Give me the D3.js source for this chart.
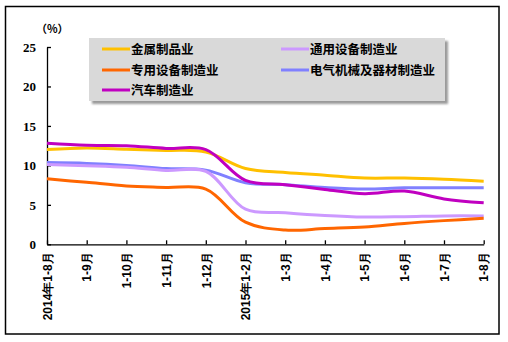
<!DOCTYPE html>
<html>
<head>
<meta charset="utf-8">
<script src="https://cdn.jsdelivr.net/npm/d3@7"></script>
<style>
  html, body { margin: 0; padding: 0; background: #fff; }
  svg { display: block; }
</style>
</head>
<body>
<svg id="chart" width="508" height="342"></svg>
<script>
// Monthly cumulative growth (%), Jan–Aug 2014 through Jan–Aug 2015
const periods = ["2014年1-8月", "1-9月", "1-10月", "1-11月", "1-12月", "2015年1-2月",
                 "1-3月", "1-4月", "1-5月", "1-6月", "1-7月", "1-8月"];
const yTicks = [0, 5, 10, 15, 20, 25];

const metalProducts   = [12.0, 12.2, 12.05, 11.9, 11.7, 9.6, 9.1, 8.75, 8.4, 8.4, 8.25, 8.0];
const generalEquip    = [10.1, 9.95, 9.75, 9.35, 9.25, 4.45, 4.0, 3.65, 3.45, 3.5, 3.6, 3.6];
const specialEquip    = [8.3, 7.85, 7.4, 7.2, 7.0, 2.8, 1.8, 2.0, 2.2, 2.65, 3.0, 3.3];
const electricalMach  = [10.35, 10.25, 10.0, 9.6, 9.4, 7.8, 7.55, 7.2, 7.0, 7.15, 7.15, 7.15];
const automobile      = [12.8, 12.55, 12.5, 12.15, 12.0, 8.1, 7.55, 6.95, 6.4, 6.75, 5.75, 5.25];

const seriesNames  = ["金属制品业", "通用设备制造业", "专用设备制造业", "电气机械及器材制造业", "汽车制造业"];
const seriesColors = ["#FFC000", "#CC99FF", "#FF6600", "#8080FF", "#C000C0"];
const seriesValues = [metalProducts, generalEquip, specialEquip, electricalMach, automobile];

const svg = d3.select("#chart");

// outer frame
svg.append("rect")
  .attr("x", 5.5).attr("y", 6.5).attr("width", 493.5).attr("height", 327.5)
  .attr("fill", "#fff").attr("stroke", "#000").attr("stroke-width", 1.5);

const x = d3.scalePoint().domain(periods).range([47, 483.7]);
const y = d3.scaleLinear().domain([0, 25]).range([244.3, 47]);

// axes (ticks point inward)
const yAxis = d3.axisLeft(y).tickValues(yTicks).tickSize(-4).tickSizeOuter(0).tickPadding(11);
const gy = svg.append("g").attr("transform", "translate(47,0)").call(yAxis);
gy.select(".domain").attr("stroke", "#000").attr("stroke-width", 1.3);
gy.selectAll(".tick line").attr("stroke", "#000").attr("stroke-width", 1.3);
gy.selectAll(".tick text")
  .attr("font-family", "'Liberation Serif', 'Times New Roman', serif")
  .attr("font-weight", "bold").attr("font-size", 13).attr("fill", "#000");

const xAxis = d3.axisBottom(x).tickSize(-4).tickSizeOuter(0).tickPadding(0);
const gx = svg.append("g").attr("transform", "translate(0,244.3)").call(xAxis);
gx.select(".domain").attr("stroke", "#000").attr("stroke-width", 1.3);
gx.selectAll(".tick line").attr("stroke", "#000").attr("stroke-width", 1.3);
gx.selectAll(".tick text")
  .attr("font-family", "'Liberation Sans', Arial, sans-serif")
  .attr("font-weight", "bold").attr("font-size", 12).attr("fill", "#000")
  .attr("text-anchor", "end")
  .attr("transform", "translate(0,8) rotate(-90)")
  .attr("x", 0).attr("y", 0).attr("dy", "0.35em");

// unit label
svg.append("text")
  .attr("x", 36).attr("y", 33)
  .attr("font-family", "'Noto Sans CJK SC', sans-serif")
  .attr("font-weight", "bold").attr("font-size", 11).attr("fill", "#000")
  .text("（%）");

// lines
const line = d3.line()
  .x((d, i) => x(periods[i]))
  .y(d => y(d))
  .curve(d3.curveCatmullRom.alpha(0.5));

const order = [3, 1, 2, 0, 4];
order.forEach(k => {
  svg.append("path")
    .datum(seriesValues[k])
    .attr("d", line)
    .attr("fill", "none")
    .attr("stroke", seriesColors[k])
    .attr("stroke-width", 3)
    .attr("stroke-linejoin", "round")
    .attr("stroke-linecap", "butt");
});

// legend
const defs = svg.append("defs");
const f = defs.append("filter").attr("id", "shadow").attr("x", "-10%").attr("y", "-20%")
  .attr("width", "120%").attr("height", "150%");
f.append("feGaussianBlur").attr("stdDeviation", 1.2);

svg.append("rect")
  .attr("x", 92).attr("y", 41).attr("width", 356).attr("height", 63)
  .attr("fill", "#9a9a9a").attr("filter", "url(#shadow)");
svg.append("rect")
  .attr("x", 89).attr("y", 38).attr("width", 356).attr("height", 63)
  .attr("fill", "#D9D9D9");

const legendPos = [
  { lx: 102, ly: 49 },   // 金属制品业
  { lx: 281, ly: 49 },   // 通用设备制造业
  { lx: 102, ly: 70 },   // 专用设备制造业
  { lx: 281, ly: 70 },   // 电气机械及器材制造业
  { lx: 102, ly: 90 }    // 汽车制造业
];
seriesNames.forEach((name, k) => {
  const p = legendPos[k];
  svg.append("line")
    .attr("x1", p.lx).attr("x2", p.lx + 28)
    .attr("y1", p.ly).attr("y2", p.ly)
    .attr("stroke", seriesColors[k]).attr("stroke-width", 3);
  svg.append("text")
    .attr("x", p.lx + 29).attr("y", p.ly).attr("dy", "0.36em")
    .attr("font-family", "'Noto Sans CJK SC', sans-serif")
    .attr("font-weight", "bold").attr("font-size", 12.5).attr("fill", "#000")
    .text(name);
});
</script>
</body>
</html>
